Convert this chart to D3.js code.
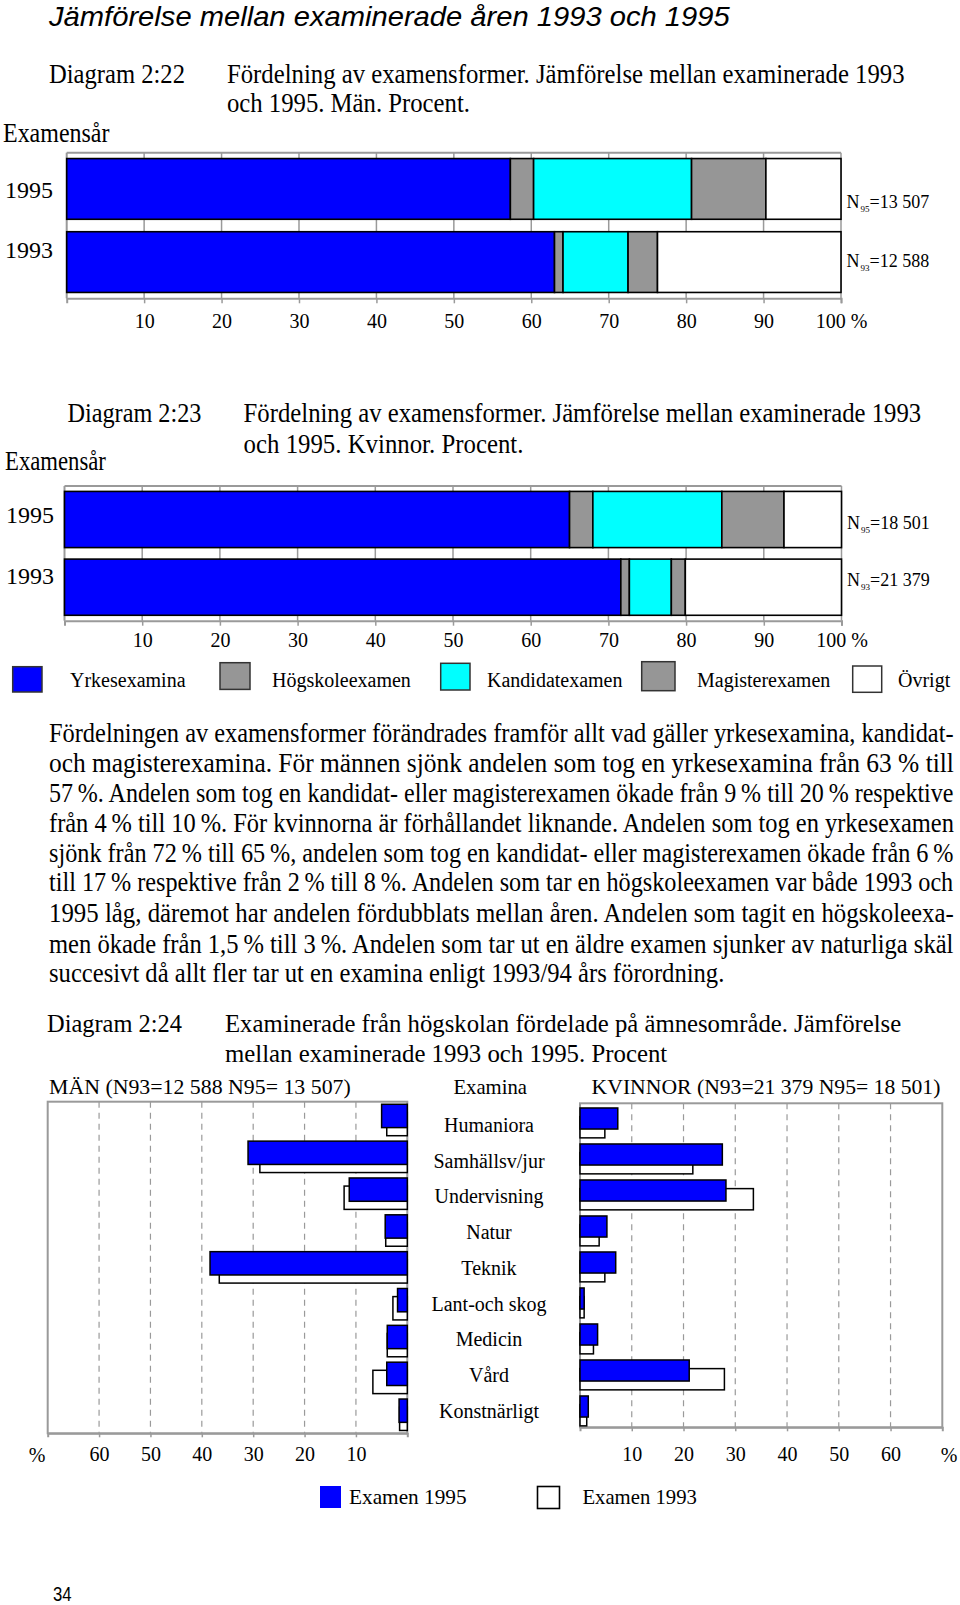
<!DOCTYPE html>
<html><head><meta charset="utf-8">
<script src="https://cdn.jsdelivr.net/npm/d3@7"></script>
<style>body{margin:0;background:#fff}svg{display:block}</style>
</head><body><div id="chart"></div>
<script>
// ---------- DATA ----------
const years = ["1995", "1993"];
const examTypes = ["Yrkesexamina", "Högskoleexamen", "Kandidatexamen", "Magisterexamen", "Övrigt"];
const men1995 = [57.3, 3.0, 20.4, 9.6, 9.7];
const men1993 = [63.0, 1.1, 8.4, 3.8, 23.7];
const women1995 = [65.0, 3.0, 16.6, 8.0, 7.4];
const women1993 = [71.6, 1.1, 5.4, 1.8, 20.1];
const menN = ["13 507", "12 588"];
const womenN = ["18 501", "21 379"];
const nSubs = ["95", "93"];
const pctTicks = [10, 20, 30, 40, 50, 60, 70, 80, 90, 100];

const subjects = ["Humaniora", "Samhällsv/jur", "Undervisning", "Natur", "Teknik", "Lant-och skog", "Medicin", "Vård", "Konstnärligt"];
const menExam1995 = [5.0, 31.0, 11.3, 4.3, 38.4, 1.9, 3.9, 4.0, 1.6];
const menExam1993 = [4.0, 28.7, 12.3, 4.2, 36.6, 2.8, 3.9, 6.7, 1.5];
const womenExam1995 = [7.3, 27.5, 28.2, 5.2, 6.9, 0.8, 3.4, 21.1, 1.6];
const womenExam1993 = [4.8, 21.8, 33.5, 3.7, 4.8, 0.8, 2.6, 27.9, 1.3];
const sideTicks = [10, 20, 30, 40, 50, 60];
const sideLegend = ["Examen 1995", "Examen 1993"];

const paragraph = [
  "Fördelningen av examensformer förändrades framför allt vad gäller yrkesexamina, kandidat-",
  "och magisterexamina. För männen sjönk andelen som tog en yrkesexamina från 63 % till",
  "57\u2009%. Andelen som tog en kandidat- eller magisterexamen ökade från 9\u2009% till 20\u2009% respektive",
  "från 4\u2009% till 10\u2009%. För kvinnorna är förhållandet liknande. Andelen som tog en yrkesexamen",
  "sjönk från 72\u2009% till 65\u2009%, andelen som tog en kandidat- eller magisterexamen ökade från 6\u2009%",
  "till 17\u2009% respektive från 2\u2009% till 8\u2009%. Andelen som tar en högskoleexamen var både 1993 och",
  "1995 låg, däremot har andelen fördubblats mellan åren. Andelen som tagit en högskoleexa-",
  "men ökade från 1,5\u2009% till 3\u2009%. Andelen som tar ut en äldre examen sjunker av naturliga skäl",
  "succesivt då allt fler tar ut en examina enligt 1993/94 års förordning."
];

// ---------- STYLE ----------
const W = 960, H = 1605;
const SERIF = "'Liberation Serif','Times New Roman',serif";
const SANS = "'Liberation Sans',Arial,sans-serif";
const typeColors = ["#0000ff", "#969696", "#00ffff", "#969696", "#ffffff"];
const GRID = "#9a9a9a";

const svg = d3.select("#chart").append("svg").attr("width", W).attr("height", H);

// text helper: when a target width is given, the glyphs are scaled horizontally
// (condensed typeface look) through a transform so the real box matches.
function text(x, y, str, o = {}) {
  const t = svg.append("text").text(str)
    .attr("font-family", o.family || SERIF).attr("font-size", o.size || 24).attr("fill", "#000");
  if (o.anchor) t.attr("text-anchor", o.anchor);
  if (o.italic) t.attr("font-style", "italic");
  if (o.len) {
    const nat = t.node().getComputedTextLength();
    const sx = nat > 0 ? o.len / nat : 1;
    t.attr("x", 0).attr("y", 0).attr("transform", `translate(${x},${y}) scale(${sx},1)`);
  } else {
    t.attr("x", x).attr("y", y);
  }
  return t;
}

// ---------- HEADINGS ----------
text(49, 25.5, "Jämförelse mellan examinerade åren 1993 och 1995", {family: SANS, italic: true, size: 27, len: 681});

text(49, 82.7, "Diagram 2:22", {size: 27, len: 136});
text(227, 82.7, "Fördelning av examensformer. Jämförelse mellan examinerade 1993", {size: 27, len: 678});
text(227, 112.4, "och 1995. Män. Procent.", {size: 27, len: 243});
text(3, 142, "Examensår", {size: 27, len: 106.5});

text(67.5, 421.5, "Diagram 2:23", {size: 27, len: 134});
text(243.6, 421.5, "Fördelning av examensformer. Jämförelse mellan examinerade 1993", {size: 27, len: 678});
text(243.6, 453, "och 1995. Kvinnor. Procent.", {size: 27, len: 280});
text(5, 469.6, "Examensår", {size: 27, len: 101});

// ---------- STACKED CHARTS ----------
function stacked(cfg) {
  const x = d3.scaleLinear().domain([0, 100]).range([cfg.x0, cfg.x1]);
  const y = d3.scaleBand().domain(years).range([cfg.top, cfg.bottom]).paddingInner(0.17).paddingOuter(0.08);
  const g = svg.append("g");
  g.selectAll("line.grid").data(pctTicks).join("line")
    .attr("x1", d => x(d)).attr("x2", d => x(d))
    .attr("y1", cfg.top).attr("y2", cfg.bottom)
    .attr("stroke", GRID).attr("stroke-width", 1.5);
  g.append("line").attr("x1", x(0)).attr("x2", x(100)).attr("y1", cfg.top).attr("y2", cfg.top)
    .attr("stroke", GRID).attr("stroke-width", 2);
  g.append("line").attr("x1", x(0)).attr("x2", x(0)).attr("y1", cfg.top).attr("y2", cfg.bottom)
    .attr("stroke", GRID).attr("stroke-width", 2);
  const ax = g.append("g").attr("transform", `translate(0,${cfg.bottom})`)
    .call(d3.axisBottom(x).tickValues(pctTicks).tickSize(5).tickSizeOuter(5).tickPadding(cfg.labelPad)
      .tickFormat(d => d === 100 ? "100 %" : d));
  ax.select(".domain").attr("stroke", GRID).attr("stroke-width", 2);
  ax.selectAll(".tick line").attr("stroke", GRID).attr("stroke-width", 1.5);
  ax.selectAll(".tick text").attr("font-family", SERIF).attr("font-size", 20).attr("fill", "#000");
  years.forEach((yr, i) => {
    const vals = cfg.data[i];
    let cum = 0;
    const segs = vals.map((v, j) => { const s = {start: cum, end: cum + v, type: j}; cum += v; return s; });
    g.append("g").selectAll("rect").data(segs).join("rect")
      .attr("x", d => x(d.start)).attr("width", d => x(Math.min(100, d.end)) - x(d.start))
      .attr("y", y(yr)).attr("height", y.bandwidth())
      .attr("fill", d => typeColors[d.type]).attr("stroke", "#000").attr("stroke-width", 1.6);
    text(cfg.yearX, cfg.yearY[i], yr, {size: 24});
    const t = svg.append("text").attr("x", x(100) + 5.5).attr("y", cfg.nY[i])
      .attr("font-family", SERIF).attr("font-size", 18).attr("fill", "#000");
    t.append("tspan").text("N");
    t.append("tspan").text(nSubs[i]).attr("font-size", 9).attr("dy", 4).attr("dx", 1);
    t.append("tspan").text("=" + cfg.n[i]).attr("dy", -4);
  });
}

stacked({x0: 66.7, x1: 841, top: 152.7, bottom: 298.3, labelPad: 10.5,
  data: [men1995, men1993], n: menN, yearX: 5, yearY: [198.3, 258.3], nY: [207.7, 266.7]});
stacked({x0: 64.5, x1: 841.5, top: 486, bottom: 620.7, labelPad: 7,
  data: [women1995, women1993], n: womenN, yearX: 6, yearY: [523.3, 584], nY: [528.7, 586]});

const legBoxes = [[12.7, 666.7, 29.3, 25.3], [220, 662.7, 30, 26.7], [440.7, 663.3, 29.3, 26.7], [641.7, 661.7, 33.3, 29], [852.7, 666, 29, 26.3]];
const legTextX = [70, 272, 487, 697, 898];
examTypes.forEach((t, i) => {
  const b = legBoxes[i];
  svg.append("rect").attr("x", b[0]).attr("y", b[1]).attr("width", b[2]).attr("height", b[3])
    .attr("fill", typeColors[i]).attr("stroke", "#333").attr("stroke-width", 1.5);
  text(legTextX[i], 686.7, t, {size: 20});
});

// ---------- PARAGRAPH ----------
const paraY = [741.8, 771.5, 802.2, 831.9, 861.6, 891.3, 922, 952.7, 982.3];
paragraph.forEach((line, i) => {
  text(49, paraY[i], line, {size: 27, len: i === paragraph.length - 1 ? 675.6 : 905});
});

// ---------- DIAGRAM 2:24 ----------
text(47, 1031.5, "Diagram 2:24", {size: 26, len: 135});
text(225, 1031.5, "Examinerade från högskolan fördelade på ämnesområde. Jämförelse", {size: 26, len: 676.7});
text(225, 1062, "mellan examinerade 1993 och 1995. Procent", {size: 26, len: 442.3});
text(49, 1093.5, "MÄN (N93=12 588 N95= 13 507)", {size: 22, len: 302});
text(453.4, 1093.5, "Examina", {size: 22, len: 73.6});
text(591.6, 1093.5, "KVINNOR (N93=21 379 N95= 18 501)", {size: 22, len: 349});

function sidePanel(cfg) {
  const x = d3.scaleLinear().domain([0, 70]).range([cfg.zero, cfg.far]);
  const y = d3.scaleBand().domain(subjects).range([cfg.top, cfg.bottom]);
  const bw = y.bandwidth();
  const g = svg.append("g");
  const xl = Math.min(cfg.zero, cfg.far), xr = Math.max(cfg.zero, cfg.far);
  g.append("rect").attr("x", xl).attr("y", cfg.top).attr("width", xr - xl).attr("height", cfg.bottom - cfg.top)
    .attr("fill", "none").attr("stroke", GRID).attr("stroke-width", 2);
  g.selectAll("line.grid").data(sideTicks).join("line")
    .attr("x1", d => x(d)).attr("x2", d => x(d)).attr("y1", cfg.top).attr("y2", cfg.bottom)
    .attr("stroke", GRID).attr("stroke-width", 1.2).attr("stroke-dasharray", "6,5");
  const ax = g.append("g").attr("transform", `translate(0,${cfg.bottom})`)
    .call(d3.axisBottom(x).tickValues(sideTicks).tickSize(4).tickSizeOuter(4).tickPadding(cfg.labelPad));
  ax.select(".domain").attr("stroke", GRID).attr("stroke-width", 2);
  ax.selectAll(".tick line").attr("stroke", GRID).attr("stroke-width", 1.5);
  ax.selectAll(".tick text").attr("font-family", SERIF).attr("font-size", 20).attr("fill", "#000");
  const bar = (sel, vals, off, h, fill) => sel.selectAll("rect").data(subjects).join("rect")
    .attr("x", (d, i) => Math.min(x(0), x(vals[i])))
    .attr("width", (d, i) => Math.abs(x(vals[i]) - x(0)))
    .attr("y", d => y(d) + bw * off).attr("height", bw * h)
    .attr("fill", fill).attr("stroke", "#000").attr("stroke-width", 1.5);
  bar(g.append("g"), cfg.d93, cfg.whiteOff, cfg.whiteH, "#fff");
  bar(g.append("g"), cfg.d95, cfg.blueOff, cfg.blueH, "#0000ff");
  text(cfg.pctX, 1461.5, "%", {size: 20, anchor: "middle"});
}

sidePanel({zero: 407.3, far: 47.7, top: 1101.7, bottom: 1433.3, labelPad: 10,
  d95: menExam1995, d93: menExam1993, blueOff: 0.07, blueH: 0.633, whiteOff: 0.29, whiteH: 0.633, pctX: 37});
sidePanel({zero: 580, far: 942.3, top: 1103.3, bottom: 1427.3, labelPad: 16,
  d95: womenExam1995, d93: womenExam1993, blueOff: 0.13, blueH: 0.585, whiteOff: 0.37, whiteH: 0.59, pctX: 949});

const labelBand = d3.scaleBand().domain(subjects).range([1107.2, 1428.5]);
svg.append("g").selectAll("text").data(subjects).join("text")
  .attr("x", 489).attr("y", d => labelBand(d) + labelBand.bandwidth() / 2 + 7)
  .attr("text-anchor", "middle").attr("font-family", SERIF).attr("font-size", 20).text(d => d);

svg.append("rect").attr("x", 320).attr("y", 1486).attr("width", 21).attr("height", 22).attr("fill", "#0000ff");
text(349, 1503.5, sideLegend[0], {size: 22, len: 117.7});
svg.append("rect").attr("x", 537.5).attr("y", 1486.5).attr("width", 22).attr("height", 22)
  .attr("fill", "#fff").attr("stroke", "#000").attr("stroke-width", 1.6);
text(582.4, 1503.5, sideLegend[1], {size: 22, len: 114.6});

text(53, 1601, "34", {family: SANS, size: 20, len: 18.6});
</script>
</body></html>
